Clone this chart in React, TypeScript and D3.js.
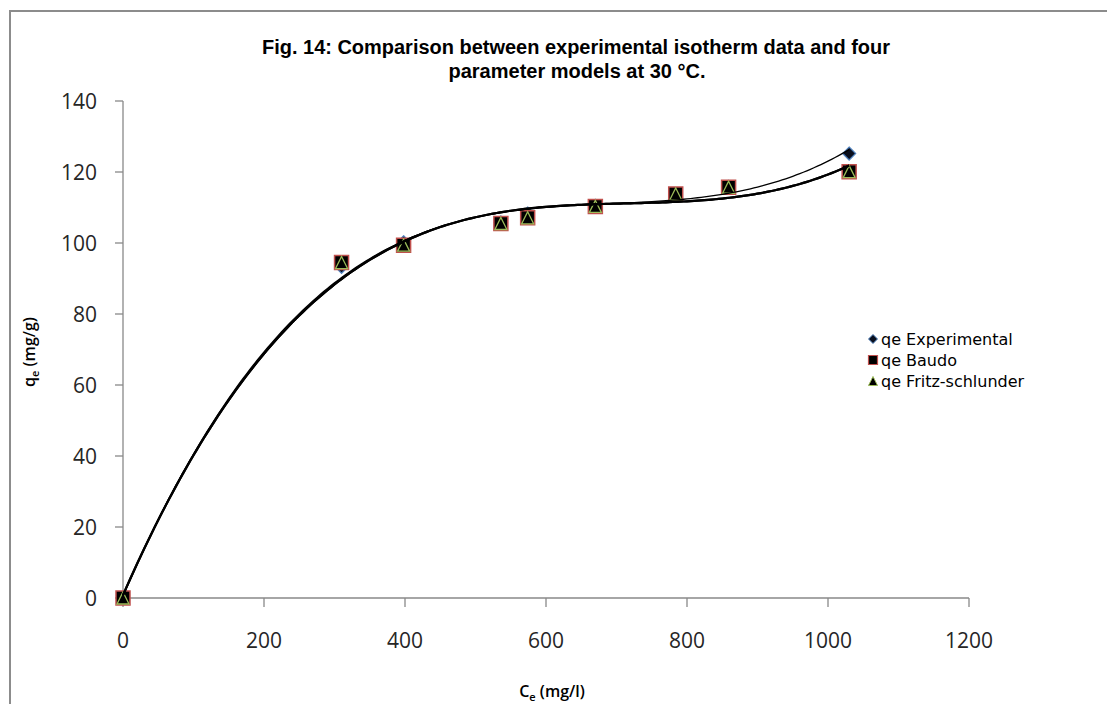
import React from "react";
import * as d3 from "d3";

// ---- data ----
const ce = [0, 310, 398, 536, 574, 670, 784, 859, 1030];
const qeExperimental = [0, 93.3, 100.2, 105.8, 108.3, 110.5, 113.8, 115.8, 125.2];
const qeBaudo = [0, 94.5, 99.4, 105.5, 107.1, 110.3, 113.8, 115.7, 120.1];
const qeFritz = [0, 94.5, 99.4, 105.5, 107.1, 110.3, 113.8, 115.7, 120.1];
const xTicks = [0, 200, 400, 600, 800, 1000, 1200];
const yTicks = [0, 20, 40, 60, 80, 100, 120, 140];
const legendLabels = ["qe Experimental", "qe Baudo", "qe Fritz-schlunder"];
const titleLines = [
  "Fig. 14: Comparison between experimental isotherm  data and four",
  "parameter  models at 30 °C.",
];

// least-squares polynomial trendline (as the spreadsheet's "polynomial, order 3")
function polyFit(xs: number[], ys: number[], order: number) {
  const s = 1000;
  const n = order + 1;
  const A: number[][] = Array.from({ length: n }, () => new Array(n + 1).fill(0));
  xs.forEach((xv, k) => {
    const x = xv / s;
    for (let i = 0; i < n; i++) {
      for (let j = 0; j < n; j++) A[i][j] += Math.pow(x, i + j);
      A[i][n] += ys[k] * Math.pow(x, i);
    }
  });
  for (let i = 0; i < n; i++) {
    let p = i;
    for (let r = i + 1; r < n; r++) if (Math.abs(A[r][i]) > Math.abs(A[p][i])) p = r;
    [A[i], A[p]] = [A[p], A[i]];
    for (let r = 0; r < n; r++) {
      if (r === i) continue;
      const f = A[r][i] / A[i][i];
      for (let c = i; c <= n; c++) A[r][c] -= f * A[i][c];
    }
  }
  const coef = A.map((row, i) => row[n] / row[i]);
  return (xv: number) => {
    const x = xv / s;
    return coef.reduce((acc, c, i) => acc + c * Math.pow(x, i), 0);
  };
}

const W = 1107;
const H = 704;
const left = 123;
const right = 969;
const top = 101;
const bottom = 598;

export default function App() {
  const x = d3.scaleLinear().domain([0, 1200]).range([left, right]);
  const y = d3.scaleLinear().domain([0, 140]).range([bottom, top]);
  const axisColor = "#898989";
  const tickFont = "'Open Sans', sans-serif";

  const trend = (ys: number[]) => {
    const f = polyFit(ce, ys, 3);
    const xs0 = d3.range(0, 1030.01, 5);
    const line = d3
      .line<number>()
      .x((d) => x(d))
      .y((d) => y(f(d)));
    return line(xs0) || "";
  };

  const diamond = (cx: number, cy: number, r: number) =>
    `M${cx},${cy - r}L${cx + r},${cy}L${cx},${cy + r}L${cx - r},${cy}Z`;
  const square = (cx: number, cy: number, r: number) =>
    `M${cx - r},${cy - r}H${cx + r}V${cy + r}H${cx - r}Z`;
  const triangle = (cx: number, cy: number, r: number) =>
    `M${cx},${cy - r}L${cx + r},${cy + r}L${cx - r},${cy + r}Z`;

  const legendY = [339, 360, 381];

  return (
    <svg width={W} height={H} style={{ position: "absolute", left: 0, top: 0, background: "#fff" }}>
      <rect x={0} y={0} width={W} height={H} fill="#fff" />
      {/* chart area border */}
      <rect x={10} y={11} width={W + 20} height={H + 20} fill="none" stroke="#8c8c8c" strokeWidth={2} />

      {/* title */}
      <g
        fontFamily="'Liberation Sans', Arial, sans-serif"
        fontWeight="bold"
        fontSize={20}
        textAnchor="middle"
        fill="#000"
        style={{ whiteSpace: "pre" }}
      >
        <text x={576} y={54} textLength={628} lengthAdjust="spacingAndGlyphs">
          {titleLines[0]}
        </text>
        <text x={577} y={78}>
          {titleLines[1]}
        </text>
      </g>

      {/* axes */}
      <line x1={left} x2={left} y1={top} y2={bottom} stroke={axisColor} strokeWidth={1.3} />
      <line x1={left} x2={right} y1={bottom} y2={bottom} stroke={axisColor} strokeWidth={1.3} />
      {yTicks.map((t) => (
        <g key={"y" + t}>
          <line x1={left - 8} x2={left} y1={y(t)} y2={y(t)} stroke={axisColor} strokeWidth={1.3} />
          <text x={97} y={y(t) + 7.5} textAnchor="end" fontFamily={tickFont} fontSize={21} fill="#262626">
            {t}
          </text>
        </g>
      ))}
      {xTicks.map((t) => (
        <g key={"x" + t}>
          <line x1={x(t)} x2={x(t)} y1={bottom} y2={bottom + 9} stroke={axisColor} strokeWidth={1.3} />
          <text x={x(t)} y={648} textAnchor="middle" fontFamily={tickFont} fontSize={21} fill="#262626">
            {t}
          </text>
        </g>
      ))}

      {/* axis titles */}
      <text x={552} y={697} textAnchor="middle" fontFamily={tickFont} fontWeight={600} fontSize={16} fill="#000">
        C<tspan fontSize={11} dy={4}>e</tspan>
        <tspan dy={-4}> (mg/l)</tspan>
      </text>
      <text
        transform={`translate(35,352) rotate(-90)`}
        textAnchor="middle"
        fontFamily={tickFont}
        fontWeight={600}
        fontSize={16}
        fill="#000"
      >
        q<tspan fontSize={11} dy={4}>e</tspan>
        <tspan dy={-4}> (mg/g)</tspan>
      </text>

      {/* markers */}
      {ce.map((c, i) => (
        <path key={"d" + i} d={diamond(x(c), y(qeExperimental[i]), 6.5)} fill="#0a0f1e" stroke="#4F81BD" strokeWidth={1.2} />
      ))}
      {ce.map((c, i) => (
        <path key={"s" + i} d={square(x(c), y(qeBaudo[i]), 7)} fill="#000" stroke="#C0504D" strokeWidth={1.5} />
      ))}
      {ce.map((c, i) => (
        <path key={"t" + i} d={triangle(x(c), y(qeFritz[i]), 6)} fill="#000" stroke="#9BBB59" strokeWidth={1.3} />
      ))}

      {/* trendlines */}
      <path d={trend(qeExperimental)} fill="none" stroke="#000" strokeWidth={1.3} />
      <path d={trend(qeBaudo)} fill="none" stroke="#000" strokeWidth={2.2} />
      <path d={trend(qeFritz)} fill="none" stroke="#000" strokeWidth={2.2} />

      {/* legend */}
      <g fontFamily="'DejaVu Sans', Verdana, sans-serif" fontSize={16} fill="#000">
        <path d={diamond(873, legendY[0], 4.5)} fill="#0a0f1e" stroke="#4F81BD" strokeWidth={1} />
        <path d={square(873, legendY[1], 4.5)} fill="#000" stroke="#C0504D" strokeWidth={1.2} />
        <path d={triangle(873, legendY[2], 4.5)} fill="#000" stroke="#9BBB59" strokeWidth={1} />
        {legendLabels.map((l, i) => (
          <text key={l} x={881} y={legendY[i] + 5.5}>
            {l}
          </text>
        ))}
      </g>
    </svg>
  );
}
